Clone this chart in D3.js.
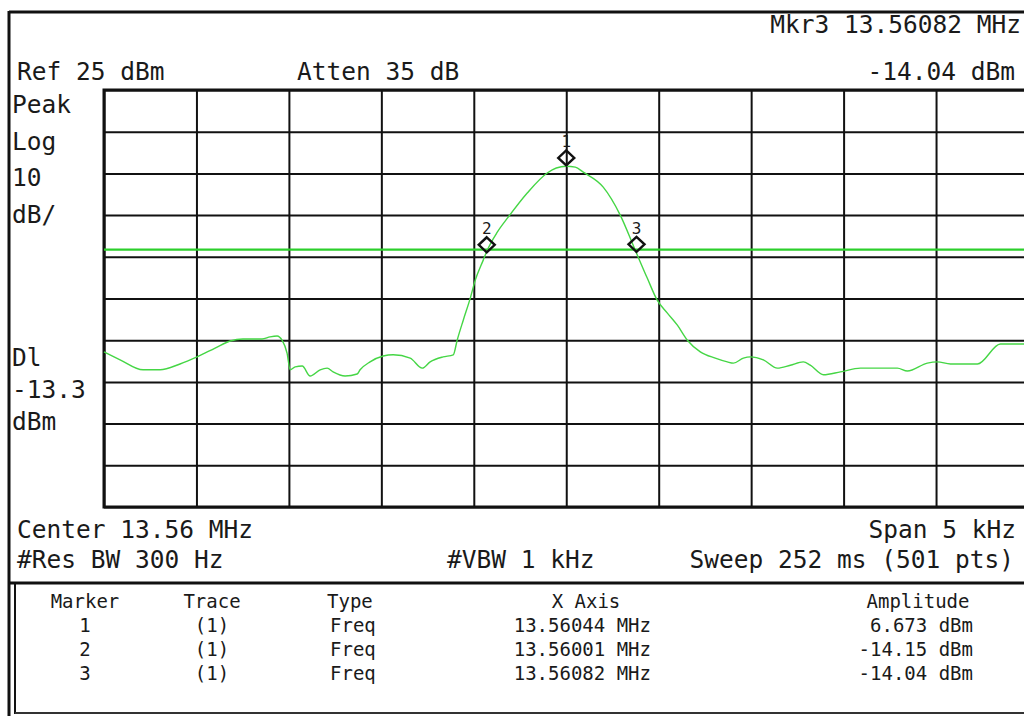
<!DOCTYPE html>
<html><head><meta charset="utf-8">
<script src="https://cdn.jsdelivr.net/npm/d3@7/dist/d3.min.js"></script>
<style>
html,body{margin:0;padding:0;background:#fff;}
svg{display:block;}
text{font-family:"DejaVu Sans Mono",monospace;fill:#1a1a1a;white-space:pre;}
</style></head>
<body>
<svg id="chart" width="1024" height="716"></svg>
<script>
// ---- data ----
const centerMHz = 13.56044;          // effective centre of the sweep (marker 1)
const spanHz = 5000;
const refLevel = 25, dbPerDiv = 10, divisions = 10;
const displayLine = -13.3;
// trace: frequency offset from centre (Hz) and amplitude (dBm)
const traceOffsetHz = [-2500,-2413,-2289,-2197,-2089,-1997,-1899,-1818,-1748,-1645,-1602,-1564,-1537,-1510,-1493,-1466,-1428,-1385,-1331,-1293,-1261,-1196,-1131,-1115,-1061,-990,-936,-844,-779,-736,-666,-611,-590,-557,-519,-492,-449,-427,-373,-314,-211,-103,-54,0,49,92,200,292,373,438,492,547,601,655,725,806,871,904,958,996,1066,1142,1212,1282,1320,1391,1483,1591,1791,1845,1953,2007,2078,2224,2348,2500];
const traceDbm = [-37.8,-39.7,-42.1,-42.1,-40.7,-39.0,-36.9,-35.2,-34.7,-34.7,-34.2,-34.0,-35.0,-38.1,-42.1,-41.4,-41.2,-43.6,-42.1,-41.7,-42.6,-43.6,-43.1,-42.1,-40.2,-38.8,-38.5,-39.3,-41.7,-40.2,-39.0,-38.5,-35.0,-30.2,-24.9,-20.6,-15.8,-13.4,-9.1,-5.5,0.3,5.1,6.3,6.7,6.5,5.3,1.7,-5.0,-13.4,-20.1,-25.4,-28.5,-31.4,-35.0,-37.8,-39.3,-40.2,-40.5,-39.3,-39.0,-39.7,-41.7,-41.0,-40.2,-41.0,-43.3,-42.6,-41.7,-41.7,-42.4,-40.5,-40.2,-40.7,-40.7,-35.9,-35.9];
// markers
const markerIds = ["1","2","3"];
const markerTrace = ["(1)","(1)","(1)"];
const markerType = ["Freq","Freq","Freq"];
const markerFreqMHz = [13.56044, 13.56001, 13.56082];
const markerAmp = [6.673, -14.15, -14.04];
const markerFreqLabels = ["13.56044 MHz","13.56001 MHz","13.56082 MHz"];
const markerAmpLabels = ["6.673 dBm","-14.15 dBm","-14.04 dBm"];
const tableHeaders = ["Marker","Trace","Type","X Axis","Amplitude"];

// ---- layout ----
const svg = d3.select("#chart");
const L = 104, R = 1028.5, T = 90, B = 507;
const x = d3.scaleLinear()
  .domain([centerMHz - spanHz/2e6, centerMHz + spanHz/2e6]).range([L, R]);
const y = d3.scaleLinear()
  .domain([refLevel - dbPerDiv*divisions, refLevel]).range([B, T]);

// outer frame
svg.append("line").attr("x1",9).attr("x2",1024).attr("y1",12).attr("y2",12).attr("stroke","#111").attr("stroke-width",3);
svg.append("line").attr("x1",9).attr("x2",9).attr("y1",11).attr("y2",716).attr("stroke","#111").attr("stroke-width",3);
svg.append("line").attr("x1",10).attr("x2",1024).attr("y1",583).attr("y2",583).attr("stroke","#111").attr("stroke-width",3);
svg.append("line").attr("x1",15).attr("x2",15).attr("y1",583).attr("y2",714).attr("stroke","#111").attr("stroke-width",2);
svg.append("line").attr("x1",15).attr("x2",1024).attr("y1",713).attr("y2",713).attr("stroke","#333").attr("stroke-width",2);

// grid via axes
const xTicks = d3.range(0, divisions+1).map(i => x.domain()[0] + i*spanHz/divisions/1e6);
const yTicks = d3.range(0, divisions+1).map(i => y.domain()[0] + i*dbPerDiv);
const gx = svg.append("g").attr("transform",`translate(0,${B})`)
  .call(d3.axisBottom(x).tickValues(xTicks).tickSize(-(B-T)).tickFormat(""));
const gy = svg.append("g").attr("transform",`translate(${L},0)`)
  .call(d3.axisLeft(y).tickValues(yTicks).tickSize(-(R-L)).tickFormat(""));
[gx,gy].forEach(g=>{
  g.select(".domain").remove();
  g.selectAll(".tick line").attr("stroke","#111").attr("stroke-width",2);
});
// plot border
svg.append("rect").attr("x",L).attr("y",T).attr("width",R-L).attr("height",B-T)
  .attr("fill","none").attr("stroke","#111").attr("stroke-width",3);

// display line
svg.append("line").attr("x1",L).attr("x2",1024).attr("y1",y(displayLine)).attr("y2",y(displayLine))
  .attr("stroke","#2ccf2c").attr("stroke-width",2.2);

// trace
const pts = traceOffsetHz.map((f,i)=>[centerMHz + f/1e6, traceDbm[i]]);
svg.append("path").datum(pts)
  .attr("d", d3.line().curve(d3.curveMonotoneX).x(d=>x(d[0])).y(d=>y(d[1])))
  .attr("fill","none").attr("stroke","#45d645").attr("stroke-width",1.4);

// markers
markerIds.forEach((id,i)=>{
  const mx = x(markerFreqMHz[i]), my = y(markerAmp[i]);
  const cy = my - 8.5, hw = 8, hh = 7.5;
  svg.append("path")
    .attr("d",`M${mx},${cy-hh}L${mx+hw},${cy}L${mx},${cy+hh}L${mx-hw},${cy}Z`)
    .attr("fill","none").attr("stroke","#111").attr("stroke-width",2.4);
  svg.append("text").attr("x",mx).attr("y",cy-hh-3).attr("text-anchor","middle")
    .style("font-size","16px").text(id);
});

// ---- texts ----
function txt(xp, yp, s, size, anchor){
  return svg.append("text").attr("x",xp).attr("y",yp)
    .attr("text-anchor",anchor||"start").style("font-size",size+"px").text(s);
}
const big = 24.5;
txt(1021, 33, "Mkr3 13.56082 MHz", big, "end");
txt(17, 80, "Ref 25 dBm", big);
txt(297, 80, "Atten 35 dB", big);
txt(1015, 80, markerAmpLabels[2], big, "end");
txt(12, 113, "Peak", big);
txt(12, 150, "Log", big);
txt(12, 186, "10", big);
txt(12, 223, "dB/", big);
txt(12, 366, "Dl", big);
txt(12, 398, String(displayLine), big);
txt(12, 430, "dBm", big);
txt(17, 538, "Center 13.56 MHz", big);
txt(1016, 538, "Span 5 kHz", big, "end");
txt(17, 568, "#Res BW 300 Hz", big);
txt(447, 568, "#VBW 1 kHz", big);
txt(1014, 568, "Sweep 252 ms (501 pts)", big, "end");

// table
const tsz = 19;
const rowY = [608, 632, 656, 680];
txt(85, rowY[0], tableHeaders[0], tsz, "middle");
txt(212, rowY[0], tableHeaders[1], tsz, "middle");
txt(327, rowY[0], tableHeaders[2], tsz, "start");
txt(586, rowY[0], tableHeaders[3], tsz, "middle");
txt(918, rowY[0], tableHeaders[4], tsz, "middle");
markerIds.forEach((id,i)=>{
  const yy = rowY[i+1];
  txt(85, yy, id, tsz, "middle");
  txt(212, yy, markerTrace[i], tsz, "middle");
  txt(330, yy, markerType[i], tsz, "start");
  txt(651, yy, markerFreqLabels[i], tsz, "end");
  txt(973, yy, markerAmpLabels[i], tsz, "end");
});
</script>
</body></html>
